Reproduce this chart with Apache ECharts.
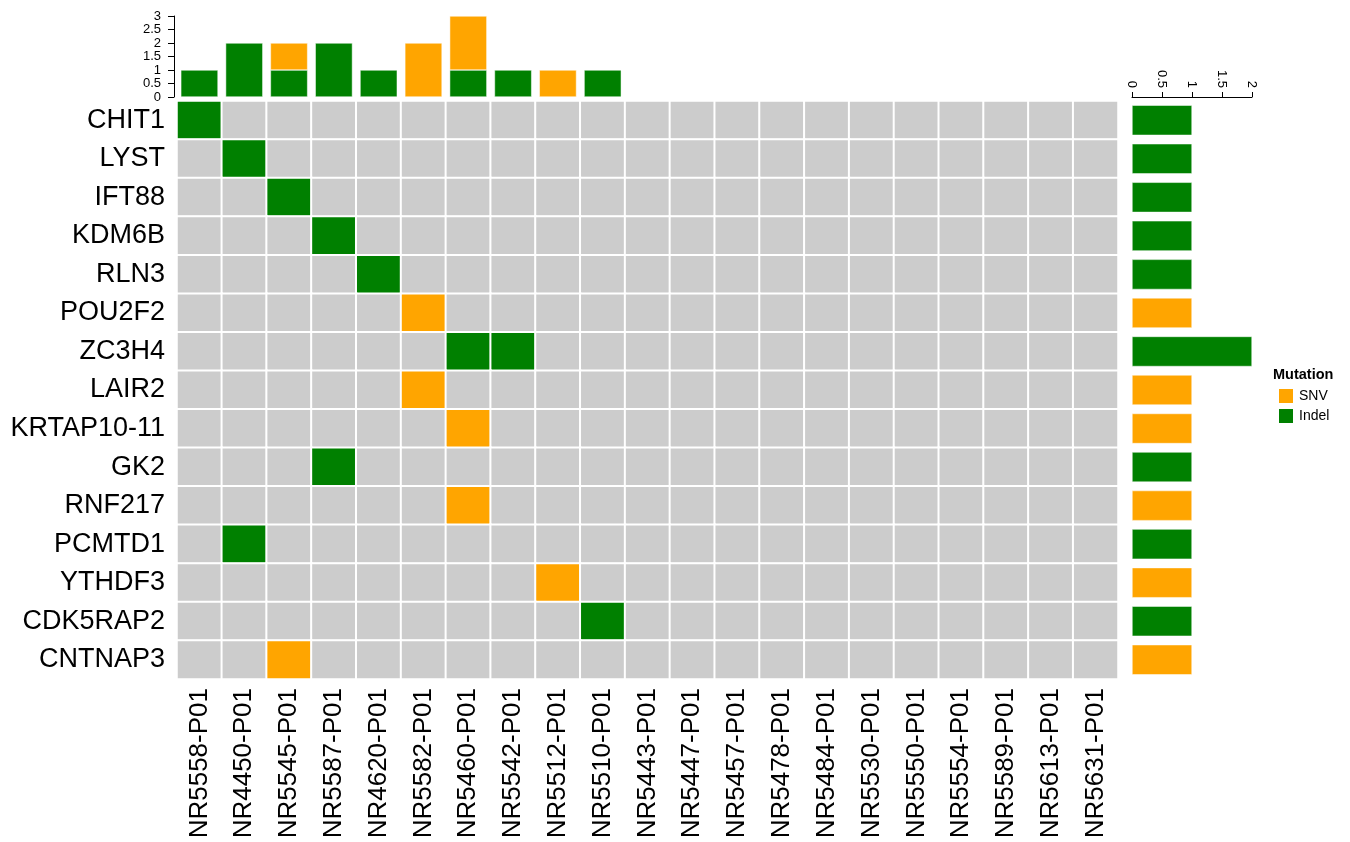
<!DOCTYPE html>
<html>
<head>
<meta charset="utf-8">
<script src="https://cdn.jsdelivr.net/npm/echarts@6/dist/echarts.min.js"></script>
<style>
  html, body { margin: 0; padding: 0; background: #ffffff; }
  #chart { width: 1350px; height: 842px; }
</style>
</head>
<body>
<div id="chart"></div>
<script>
// Genes (rows, top to bottom) and samples (columns, left to right)
const genes = ['CHIT1', 'LYST', 'IFT88', 'KDM6B', 'RLN3', 'POU2F2', 'ZC3H4', 'LAIR2',
  'KRTAP10-11', 'GK2', 'RNF217', 'PCMTD1', 'YTHDF3', 'CDK5RAP2', 'CNTNAP3'];
const samples = ['NR5558-P01', 'NR4450-P01', 'NR5545-P01', 'NR5587-P01', 'NR4620-P01',
  'NR5582-P01', 'NR5460-P01', 'NR5542-P01', 'NR5512-P01', 'NR5510-P01', 'NR5443-P01',
  'NR5447-P01', 'NR5457-P01', 'NR5478-P01', 'NR5484-P01', 'NR5530-P01', 'NR5550-P01',
  'NR5554-P01', 'NR5589-P01', 'NR5613-P01', 'NR5631-P01'];

// Observed mutations: gene, sample, type
const mutGene   = ['CHIT1', 'LYST', 'IFT88', 'KDM6B', 'RLN3', 'POU2F2', 'ZC3H4', 'ZC3H4',
  'LAIR2', 'KRTAP10-11', 'GK2', 'RNF217', 'PCMTD1', 'YTHDF3', 'CDK5RAP2', 'CNTNAP3'];
const mutSample = ['NR5558-P01', 'NR4450-P01', 'NR5545-P01', 'NR5587-P01', 'NR4620-P01',
  'NR5582-P01', 'NR5460-P01', 'NR5542-P01', 'NR5582-P01', 'NR5460-P01', 'NR5587-P01',
  'NR5460-P01', 'NR4450-P01', 'NR5512-P01', 'NR5510-P01', 'NR5545-P01'];
const mutType   = ['Indel', 'Indel', 'Indel', 'Indel', 'Indel', 'SNV', 'Indel', 'Indel',
  'SNV', 'SNV', 'Indel', 'SNV', 'Indel', 'SNV', 'Indel', 'SNV'];

// Axis ticks of the two count bar panels
const topTicks = [0, 0.5, 1, 1.5, 2, 2.5, 3];
const rightTicks = [0, 0.5, 1, 1.5, 2];

const types = ['SNV', 'Indel'];
const typeColor = { SNV: '#FFA500', Indel: '#008000' };
const EMPTY = '#CCCCCC';

// Grid cells: every gene x sample, coloured by mutation type if present
const cellType = {};
mutGene.forEach((g, i) => { cellType[g + '|' + mutSample[i]] = mutType[i]; });
const cells = [];
genes.forEach((g, gi) => {
  samples.forEach((s, si) => {
    const t = cellType[g + '|' + s];
    cells.push({ value: [si, gi, t ? 1 : 0], itemStyle: { color: t ? typeColor[t] : EMPTY } });
  });
});

// Per-sample and per-gene counts by type
function countBy(keys, field) {
  const out = {};
  types.forEach(t => { out[t] = keys.map(() => 0); });
  mutType.forEach((t, i) => { out[t][keys.indexOf(field[i])] += 1; });
  types.forEach(t => { out[t] = out[t].map(v => v === 0 ? null : v); });
  return out;
}
const sampleCounts = countBy(samples, mutSample);
const geneCounts = countBy(genes, mutGene);

const FONT = 'Liberation Sans, Arial, Helvetica, sans-serif';
const MAIN = { left: 177, top: 101, width: 941, height: 578 };

const chart = echarts.init(document.getElementById('chart'));
chart.setOption({
  animation: false,
  backgroundColor: '#ffffff',
  textStyle: { fontFamily: FONT },
  title: {
    text: 'Mutation', left: 1273, top: 367, padding: 0,
    textStyle: { fontFamily: FONT, fontSize: 14.5, fontWeight: 'bold', color: '#000' }
  },
  legend: {
    data: ['SNV', 'Indel'], orient: 'vertical', left: 1277, top: 387, padding: 0,
    icon: 'rect', itemWidth: 16, itemHeight: 16, itemGap: 2,
    textStyle: { fontFamily: FONT, fontSize: 14, color: '#000' },
    selectedMode: false
  },
  grid: [
    { left: MAIN.left, top: MAIN.top, width: MAIN.width, height: MAIN.height },
    { left: MAIN.left, top: 16, width: MAIN.width, height: 81 },
    { left: 1132, top: MAIN.top, width: 120, height: MAIN.height }
  ],
  xAxis: [
    {
      gridIndex: 0, type: 'category', data: samples, position: 'bottom',
      axisLine: { show: false }, axisTick: { show: false }, splitLine: { show: false },
      axisLabel: { rotate: 90, fontSize: 26, color: '#000', fontFamily: FONT, margin: 9, interval: 0 }
    },
    {
      gridIndex: 1, type: 'category', data: samples,
      axisLine: { show: false }, axisTick: { show: false }, axisLabel: { show: false }
    },
    {
      gridIndex: 2, type: 'value', min: rightTicks[0], max: rightTicks[rightTicks.length - 1],
      interval: rightTicks[1] - rightTicks[0], position: 'top', offset: 4,
      axisLine: { show: true, lineStyle: { color: '#000', width: 1 } },
      axisTick: { show: true, length: 5, lineStyle: { color: '#000' } },
      splitLine: { show: false },
      axisLabel: { rotate: 90, fontSize: 13, color: '#000', fontFamily: FONT, margin: 9 }
    }
  ],
  yAxis: [
    {
      gridIndex: 0, type: 'category', data: genes, inverse: true,
      axisLine: { show: false }, axisTick: { show: false }, splitLine: { show: false },
      axisLabel: { fontSize: 27, color: '#000', fontFamily: FONT, margin: 12, interval: 0 }
    },
    {
      gridIndex: 1, type: 'value', min: topTicks[0], max: topTicks[topTicks.length - 1],
      interval: topTicks[1] - topTicks[0], offset: 3,
      axisLine: { show: true, lineStyle: { color: '#000', width: 1 } },
      axisTick: { show: true, length: 6, lineStyle: { color: '#000' } },
      splitLine: { show: false },
      axisLabel: { fontSize: 13, color: '#000', fontFamily: FONT, margin: 13, lineHeight: 13 }
    },
    {
      gridIndex: 2, type: 'category', data: genes, inverse: true,
      axisLine: { show: false }, axisTick: { show: false }, axisLabel: { show: false }
    }
  ],
  series: [
    {
      type: 'heatmap', xAxisIndex: 0, yAxisIndex: 0, data: cells,
      itemStyle: { borderColor: '#ffffff', borderWidth: 2 },
      emphasis: { disabled: true }
    },
    {
      name: 'Indel', type: 'bar', xAxisIndex: 1, yAxisIndex: 1, stack: 'top',
      data: sampleCounts.Indel, barWidth: '83%',
      itemStyle: { color: typeColor.Indel, borderColor: '#ffffff', borderWidth: 0.5 }
    },
    {
      name: 'SNV', type: 'bar', xAxisIndex: 1, yAxisIndex: 1, stack: 'top',
      data: sampleCounts.SNV, barWidth: '83%',
      itemStyle: { color: typeColor.SNV, borderColor: '#ffffff', borderWidth: 0.5 }
    },
    {
      name: 'Indel', type: 'bar', xAxisIndex: 2, yAxisIndex: 2, stack: 'right',
      data: geneCounts.Indel, barWidth: '78%',
      itemStyle: { color: typeColor.Indel, borderColor: '#ffffff', borderWidth: 0.5 }
    },
    {
      name: 'SNV', type: 'bar', xAxisIndex: 2, yAxisIndex: 2, stack: 'right',
      data: geneCounts.SNV, barWidth: '78%',
      itemStyle: { color: typeColor.SNV, borderColor: '#ffffff', borderWidth: 0.5 }
    }
  ]
});
</script>
</body>
</html>
